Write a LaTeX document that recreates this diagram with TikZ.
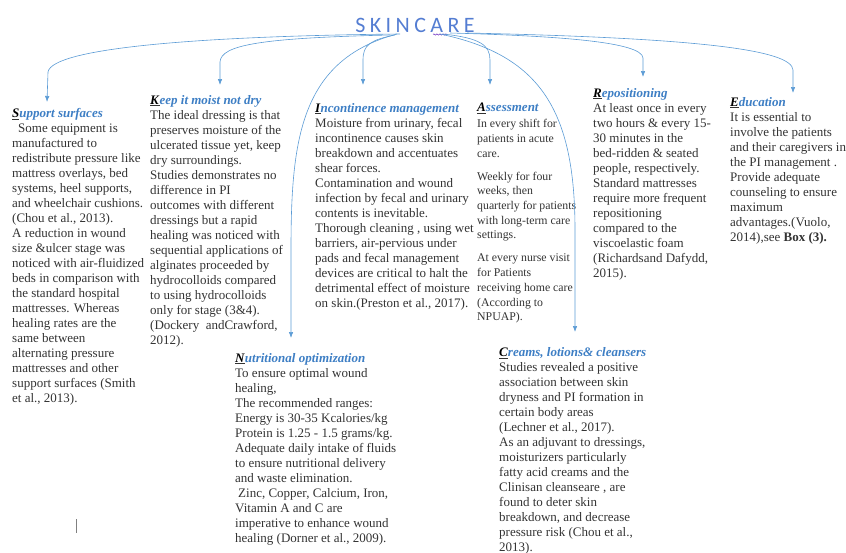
\documentclass[tikz,border=0pt]{standalone}
\usepackage{fontspec}
\setmainfont{Liberation Serif}
\newfontfamily\titlefont[LetterSpace=20]{Carlito}
\usepackage{xcolor}
\usetikzlibrary{arrows,arrows.meta,calc,positioning,decorations.pathmorphing}
\definecolor{linkblue}{RGB}{91,155,213}
\definecolor{headblue}{RGB}{61,126,196}
\definecolor{titleblue}{RGB}{84,125,210}
\definecolor{bodygray}{RGB}{51,51,51}
\newcommand{\blockhead}[2]{\underline{\textcolor{black}{\textbf{\textit{#1}}}}\textcolor{headblue}{\textbf{\textit{#2}}}}
\tikzset{%
	block/.style       = {anchor=north west, inner sep=0pt, align=left, text=bodygray, font=\fontsize{13}{15}\selectfont},
	small block/.style = {block, font=\fontsize{11.8}{14.7}\selectfont},
	link/.style        = {draw=linkblue, line width=0.6pt, -{Latex[length=6pt,width=4.5pt]}},
}
\begin{document}
\begin{tikzpicture}[x=1pt,y=-1pt]
	\useasboundingbox (0,0) rectangle (846,552);
	% title
	\node[font=\titlefont\fontsize{22}{22}\selectfont, text=titleblue, anchor=base, inner sep=0pt] (title) at (415,32) {SKINCARE};
	\draw[decorate, decoration={snake, amplitude=0.7pt, segment length=3pt}, draw=violet!60!blue, line width=0.4pt] (433,34.5) -- (447,34.5);
	% blocks
	\node[block] (support) at (12,108) {\blockhead{S}{upport surfaces}\\
		\hspace*{6pt}Some equipment is\\
		manufactured to\\
		redistribute pressure like\\
		mattress overlays, bed\\
		systems, heel supports,\\
		and wheelchair cushions.\\
		(Chou et al., 2013).\\
		A reduction in wound\\
		size \&ulcer stage was\\
		noticed with air-fluidized\\
		beds in comparison with\\
		the standard hospital\\
		mattresses. Whereas\\
		healing rates are the\\
		same between\\
		alternating pressure\\
		mattresses and other\\
		support surfaces (Smith\\
		et al., 2013).};
	\node[block] (moist) at (150,95) {\blockhead{K}{eep it moist not dry}\\
		The ideal dressing is that\\
		preserves moisture of the\\
		ulcerated tissue yet, keep\\
		dry surroundings.\\
		Studies demonstrates no\\
		difference in PI\\
		outcomes with different\\
		dressings but a rapid\\
		healing was noticed with\\
		sequential applications of\\
		alginates proceeded by\\
		hydrocolloids compared\\
		to using hydrocolloids\\
		only for stage (3\&4).\\
		(Dockery\ \ andCrawford,\\
		2012).};
	\node[block] (incont) at (315,103) {\blockhead{I}{ncontinence management}\\
		Moisture from urinary, fecal\\
		incontinence causes skin\\
		breakdown and accentuates\\
		shear forces.\\
		Contamination and wound\\
		infection by fecal and urinary\\
		contents is inevitable.\\
		Thorough cleaning , using wet\\
		barriers, air-pervious under\\
		pads and fecal management\\
		devices are critical to halt the\\
		detrimental effect of moisture\\
		on skin.(Preston et al., 2017).};
	\node[small block] (assess) at (477,103) {{\fontsize{13}{15}\selectfont\blockhead{A}{ssessment}}\\[1.3pt]
		In every shift for\\
		patients in acute\\
		care.\\[8.3pt]
		Weekly for four\\
		weeks, then\\
		quarterly for patients\\
		with long-term care\\
		settings.\\[8.3pt]
		At every nurse visit\\
		for Patients\\
		receiving home care\\
		(According to\\
		NPUAP).};
	\node[block] (repos) at (593,88) {\blockhead{R}{epositioning}\\
		At least once in every\\
		two hours \& every 15-\\
		30 minutes in the\\
		bed-ridden \& seated\\
		people, respectively.\\
		Standard mattresses\\
		require more frequent\\
		repositioning\\
		compared to the\\
		viscoelastic foam\\
		(Richardsand Dafydd,\\
		2015).};
	\node[block] (educ) at (730,97) {\blockhead{E}{ducation}\\
		It is essential to\\
		involve the patients\\
		and their caregivers in\\
		the PI management .\\
		Provide adequate\\
		counseling to ensure\\
		maximum\\
		advantages.(Vuolo,\\
		2014),see \textbf{Box (3).}};
	\node[block] (nutri) at (235,353) {\blockhead{N}{utritional optimization}\\
		To ensure optimal wound\\
		healing,\\
		The recommended ranges:\\
		Energy is 30-35 Kcalories/kg\\
		Protein is 1.25 - 1.5 grams/kg.\\
		Adequate daily intake of fluids\\
		to ensure nutritional delivery\\
		and waste elimination.\\
		\hspace*{3pt}Zinc, Copper, Calcium, Iron,\\
		Vitamin A and C are\\
		imperative to enhance wound\\
		healing (Dorner et al., 2009).};
	\node[block] (creams) at (499,347) {\blockhead{C}{reams, lotions\& cleansers}\\
		Studies revealed a positive\\
		association between skin\\
		dryness and PI formation in\\
		certain body areas\\
		(Lechner et al., 2017).\\
		As an adjuvant to dressings,\\
		moisturizers particularly\\
		fatty acid creams and the\\
		Clinisan cleanseare , are\\
		found to deter skin\\
		breakdown, and decrease\\
		pressure risk (Chou et al.,\\
		2013).};
	% arrows from the title
	\draw[link] ([shift={(-15,2)}]title.base) .. controls (200,36) and (52,48) .. (48,72) -- ([shift={(35,-6)}]support.north west);
	\draw[link] ([shift={(-25,3)}]title.base) .. controls (260,38) and (221,45) .. (220,62) -- ([shift={(70,-10)}]moist.north west);
	\draw[link] ([shift={(-20,3)}]title.base) .. controls (370,40) and (363,45) .. (363,60) -- ([shift={(48,-18)}]incont.north west);
	\draw[link] ([shift={(-18,2)}]title.base) .. controls (300,60) and (291,140) .. (291,250) -- ([shift={(56,-15)}]nutri.north west);
	\draw[link] ([shift={(28,2)}]title.base) .. controls (480,38) and (490,45) .. (490,60) -- ([shift={(13,-18)}]assess.north west);
	\draw[link] ([shift={(25,2)}]title.base) .. controls (540,55) and (575,110) .. (575,230) -- ([shift={(76,-15)}]creams.north west);
	\draw[link] ([shift={(35,1)}]title.base) .. controls (560,36) and (642,42) .. (643,58) -- ([shift={(50,-11)}]repos.north west);
	\draw[link] ([shift={(52,1)}]title.base) .. controls (700,38) and (792,50) .. (793,70) -- ([shift={(63,-4)}]educ.north west);
	% cursor mark
	\draw[gray, line width=0.8pt] (76,519) -- (76,533);
\end{tikzpicture}
\end{document}
